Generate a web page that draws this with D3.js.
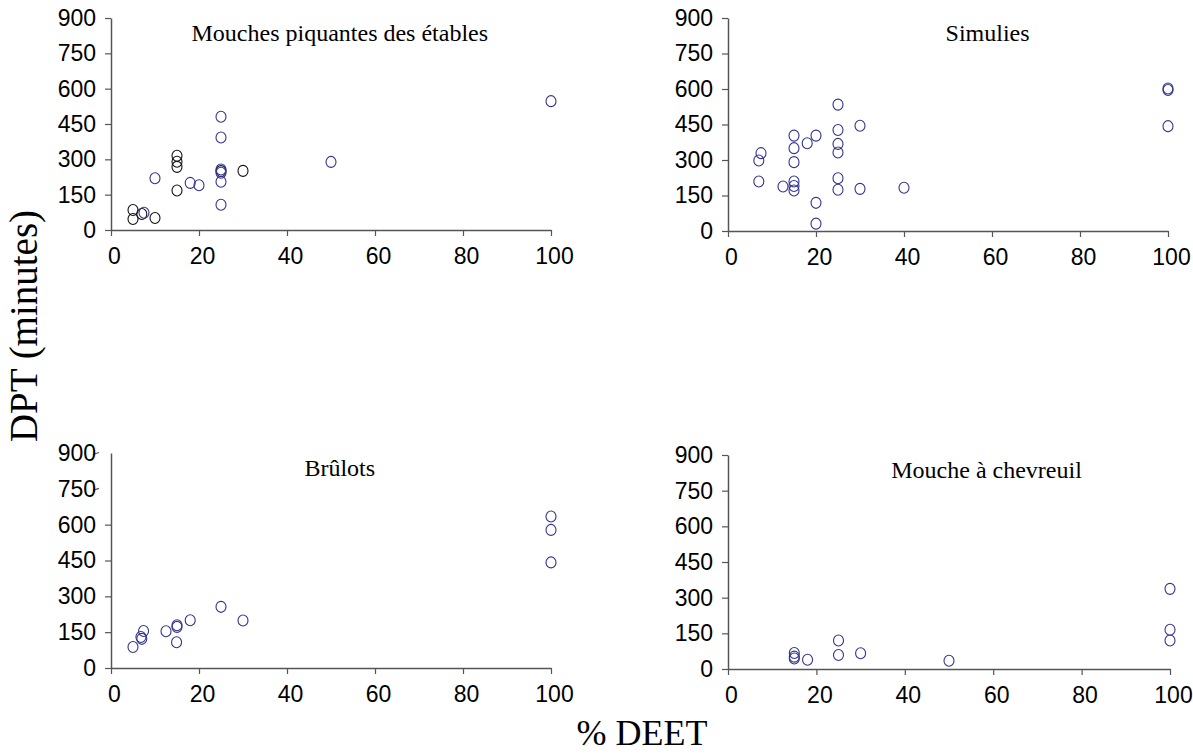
<!DOCTYPE html>
<html><head><meta charset="utf-8">
<script src="https://cdn.jsdelivr.net/npm/d3@7"></script>
<style>body{margin:0;background:#fff}svg{display:block}</style>
</head><body>
<script>
// ---- data ----
const xTicks = [0, 20, 40, 60, 80, 100];
const yTicks = [0, 150, 300, 450, 600, 750, 900];
const titles = ["Mouches piquantes des étables", "Simulies", "Brûlots", "Mouche à chevreuil"];
const yLabel = "DPT (minutes)";
const xLabel = "% DEET";

// [% DEET, DPT minutes]
const stableBlack = [[5,85],[5,47],[7,68],[10,51],[15,315],[15,290],[15,268],[15,168],[25,250],[30,251]];
const stableBlue = [[7.5,73],[10,220],[18,200],[20,190],[25,481],[25,393],[25,257],[25,243],[25,205],[25,107],[50,289],[100,547]];
const simulies = [[7.5,329],[7,298],[7,209],[12.5,188],[15,403],[15,350],[15,291],[15,209],[15,190],[15,171],[18,371],[20,403],[20,119],[20,31],[25,534],[25,427],[25,368],[25,332],[25,223],[25,174],[30,445],[30,178],[40,183],[100,602],[100,596],[100,443]];
const brulots = [[5,88],[6.8,130],[7,122],[7.4,155],[12.5,154],[15,179],[15,172],[14.9,108],[18,200],[25,256],[30,199],[100,634],[100,578],[100,442]];
const chevreuil = [[15,67],[15,52],[15,44],[18,39],[25,120],[25,59],[30,66],[50,35],[100,337],[100,165],[100,120]];

const BLUE = "#33338f", BLACK = "#111";
const panels = [
  {title: titles[0], sets: [[stableBlack, BLACK], [stableBlue, BLUE]], x0: 111, x1: 551, yT: 18, yB: 230, tx: 0.52},
  {title: titles[1], sets: [[simulies, BLUE]], x0: 728, x1: 1168, yT: 18, yB: 231, tx: 0.59},
  {title: titles[2], sets: [[brulots, BLUE]], x0: 111, x1: 551, yT: 453, yB: 668, tx: 0.52, oddTicks: true},
  {title: titles[3], sets: [[chevreuil, BLUE]], x0: 728, x1: 1170, yT: 455, yB: 669, tx: 0.585}
];

const W = 1193, H = 755;
const svg = d3.select("body").append("svg").attr("width", W).attr("height", H);

panels.forEach(p => {
  const x = d3.scaleLinear().domain([0, 100]).range([p.x0, p.x1]);
  const y = d3.scaleLinear().domain([0, 900]).range([p.yB, p.yT]);
  const g = svg.append("g");

  const xa = g.append("g").attr("transform", `translate(0,${p.yB})`)
    .call(d3.axisBottom(x).tickValues(xTicks).tickSize(6).tickPadding(12).tickSizeOuter(0));
  const ya = g.append("g").attr("transform", `translate(${p.x0},0)`)
    .call(d3.axisLeft(y).tickValues(yTicks).tickSize(6).tickPadding(9).tickSizeOuter(0));
  [xa, ya].forEach(a => {
    a.select(".domain").attr("stroke", "#555").attr("stroke-width", 1.5);
    a.selectAll(".tick line").attr("stroke", "#555").attr("stroke-width", 1.2);
    a.selectAll(".tick text").attr("fill", "#000")
      .style("font-family", "'Liberation Sans', Arial, sans-serif").style("font-size", "23px");
  });
  xa.selectAll(".tick text").attr("dx", 3);
  if (p.oddTicks) {
    ya.selectAll(".tick").filter(d => d >= 750).select("line")
      .attr("x1", -12).attr("x2", -18).attr("y1", -1).attr("y2", 1);
  }

  g.append("text").attr("x", x(p.tx * 100)).attr("y", p.yT + 23)
    .attr("text-anchor", "middle")
    .style("font-family", "'Liberation Serif', 'Times New Roman', serif").style("font-size", "24px")
    .text(p.title);

  p.sets.forEach(([data, col]) => {
    g.selectAll(null).data(data).enter().append("ellipse")
      .attr("cx", d => x(d[0])).attr("cy", d => y(d[1]))
      .attr("rx", 5).attr("ry", 5.5)
      .attr("fill", "none").attr("stroke", col).attr("stroke-width", 1.1);
  });
});

svg.append("text").attr("transform", "translate(37,326) rotate(-90)")
  .attr("text-anchor", "middle")
  .style("font-family", "'Liberation Serif', 'Times New Roman', serif").style("font-size", "39px")
  .text(yLabel);
svg.append("text").attr("x", 642).attr("y", 745)
  .attr("text-anchor", "middle")
  .style("font-family", "'Liberation Serif', 'Times New Roman', serif").style("font-size", "36px")
  .text(xLabel);
</script>
</body></html>
